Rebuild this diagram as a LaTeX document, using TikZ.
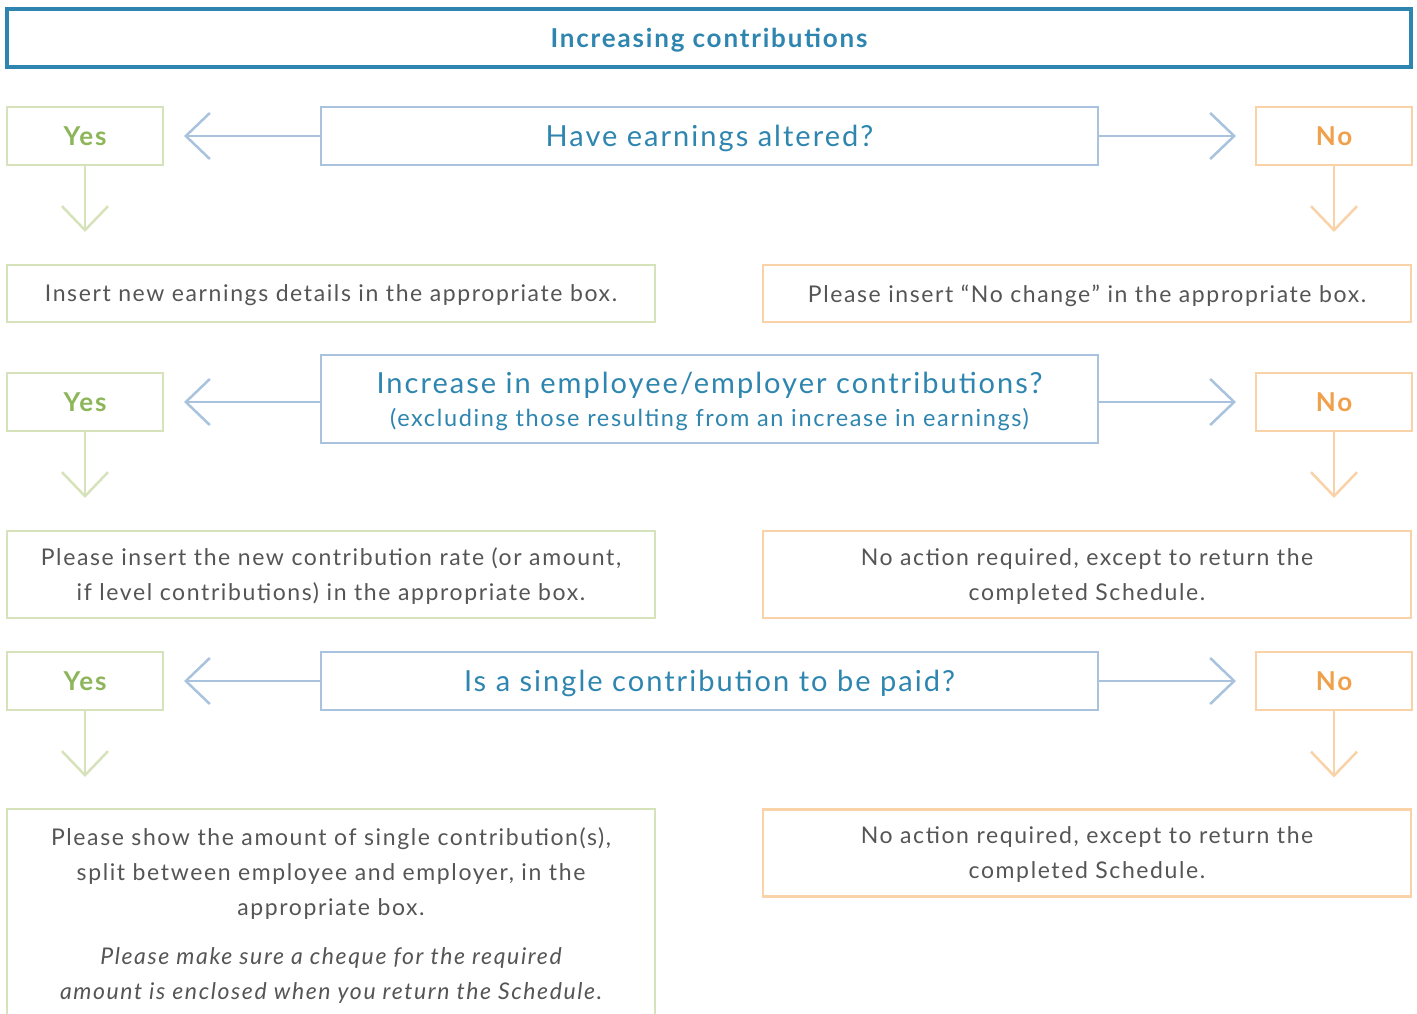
\documentclass[tikz,border=0pt]{standalone}
\usepackage{fontspec}
\setmainfont{Lato}[LetterSpace=7]
\usetikzlibrary{arrows.meta}
\definecolor{titleblue}{HTML}{2E86B0}
\definecolor{qborder}{HTML}{A9C3DE}
\definecolor{yestext}{HTML}{8DB55A}
\definecolor{yesborder}{HTML}{D6E3BA}
\definecolor{notext}{HTML}{F0A04B}
\definecolor{noborder}{HTML}{FAD2A8}
\definecolor{bodytext}{HTML}{555555}
\tikzset{
  base/.style={inner sep=0pt, outer sep=0pt, line width=2.5pt, align=center, text depth=0pt},
  titlebox/.style={base, draw=titleblue, line width=3.2pt, text=titleblue, font=\fontsize{26}{30}\selectfont\bfseries},
  qbox/.style={base, draw=qborder, text=titleblue, font=\fontsize{29}{35}\selectfont},
  yesbox/.style={base, draw=yesborder, text=yestext, font=\fontsize{26}{30}\selectfont\bfseries, minimum width=156pt, minimum height=58pt},
  nobox/.style={base, draw=noborder, text=notext, font=\fontsize{26}{30}\selectfont\bfseries, minimum width=156pt, minimum height=58pt},
  ansyes/.style={base, draw=yesborder, text=bodytext, font=\fontsize{23}{35}\selectfont, minimum width=648pt},
  ansno/.style={base, draw=noborder, text=bodytext, font=\fontsize{23}{35}\selectfont, minimum width=648pt},
  tip/.style={-{Straight Barb[length=24pt, width=46pt, line width=2.5pt]}},
  qarrow/.style={tip, draw=qborder, line width=2.5pt},
  yarrow/.style={tip, draw=yesborder, line width=2.5pt},
  narrow/.style={tip, draw=noborder, line width=2.5pt},
}
\begin{document}
\begin{tikzpicture}[x=1pt,y=-1pt]
\useasboundingbox (0,0) rectangle (1417,1014);
\fill[white] (0,0) rectangle (1417,1014);

% title
\node[titlebox, minimum width=1404pt, minimum height=58pt] (title) at (709,38) {Increasing contributions};

% row 1
\node[qbox, minimum width=777pt, minimum height=58pt] (q1) at (709.5,136) {Have earnings altered?};
\node[yesbox] (y1) at (85,136) {Yes};
\node[nobox] (n1) at (1334,136) {No};
\node[ansyes, minimum height=57pt] (a1) at (331,293.5) {Insert new earnings details in the appropriate box.};
\node[ansno, minimum height=57pt] (b1) at (1087,293.5) {Please insert “No change” in the appropriate box.};

% row 2
\node[qbox, text depth=-5pt, minimum width=777pt, minimum height=88pt] (q2) at (709.5,399) {Increase in employee/employer contributions?\\[-2pt]{\fontsize{23.5}{30}\selectfont(excluding those resulting from an increase in earnings)}};
\node[yesbox] (y2) at (85,402) {Yes};
\node[nobox] (n2) at (1334,402) {No};
\node[ansyes, minimum height=87pt] (a2) at (331,574.5) {Please insert the new contribution rate (or amount,\\if level contributions) in the appropriate box.};
\node[ansno, minimum height=87pt] (b2) at (1087,574.5) {No action required, except to return the\\completed Schedule.};

% row 3
\node[qbox, minimum width=777pt, minimum height=58pt] (q3) at (709.5,681) {Is a single contribution to be paid?};
\node[yesbox] (y3) at (85,681) {Yes};
\node[nobox] (n3) at (1334,681) {No};
\node[base, text=bodytext, font=\fontsize{23}{35}\selectfont] (a3) at (331,914) {Please show the amount of single contribution(s),\\split between employee and employer, in the\\appropriate box.\\[14pt]\itshape Please make sure a cheque for the required\\\itshape amount is enclosed when you return the Schedule.};
\coordinate (a3nw) at (7,809);
\coordinate (a3ne) at (655,809);
\coordinate (a3sw) at (7,1020);
\coordinate (a3se) at (655,1020);
\draw[yesborder, line width=2.5pt] (a3sw) -- (a3nw) -- (a3ne) -- (a3se);
\node[ansno, minimum height=87pt] (b3) at (1087,853) {No action required, except to return the\\completed Schedule.};

% connectors
\foreach \i in {1,2,3}{
  \draw[qarrow, shorten >=21pt] (q\i.west |- y\i.east) -- (y\i.east);
  \draw[qarrow, shorten >=20pt] (q\i.east |- n\i.west) -- (n\i.west);
}
\draw[yarrow, shorten >=33pt] (y1.south) -- (y1.south |- a1.north);
\draw[narrow, shorten >=33pt] (n1.south) -- (n1.south |- b1.north);
\draw[yarrow, shorten >=33pt] (y2.south) -- (y2.south |- a2.north);
\draw[narrow, shorten >=33pt] (n2.south) -- (n2.south |- b2.north);
\draw[yarrow, shorten >=32pt] (y3.south) -- (y3.south |- a3nw);
\draw[narrow, shorten >=32pt] (n3.south) -- (n3.south |- b3.north);
\end{tikzpicture}
\end{document}
